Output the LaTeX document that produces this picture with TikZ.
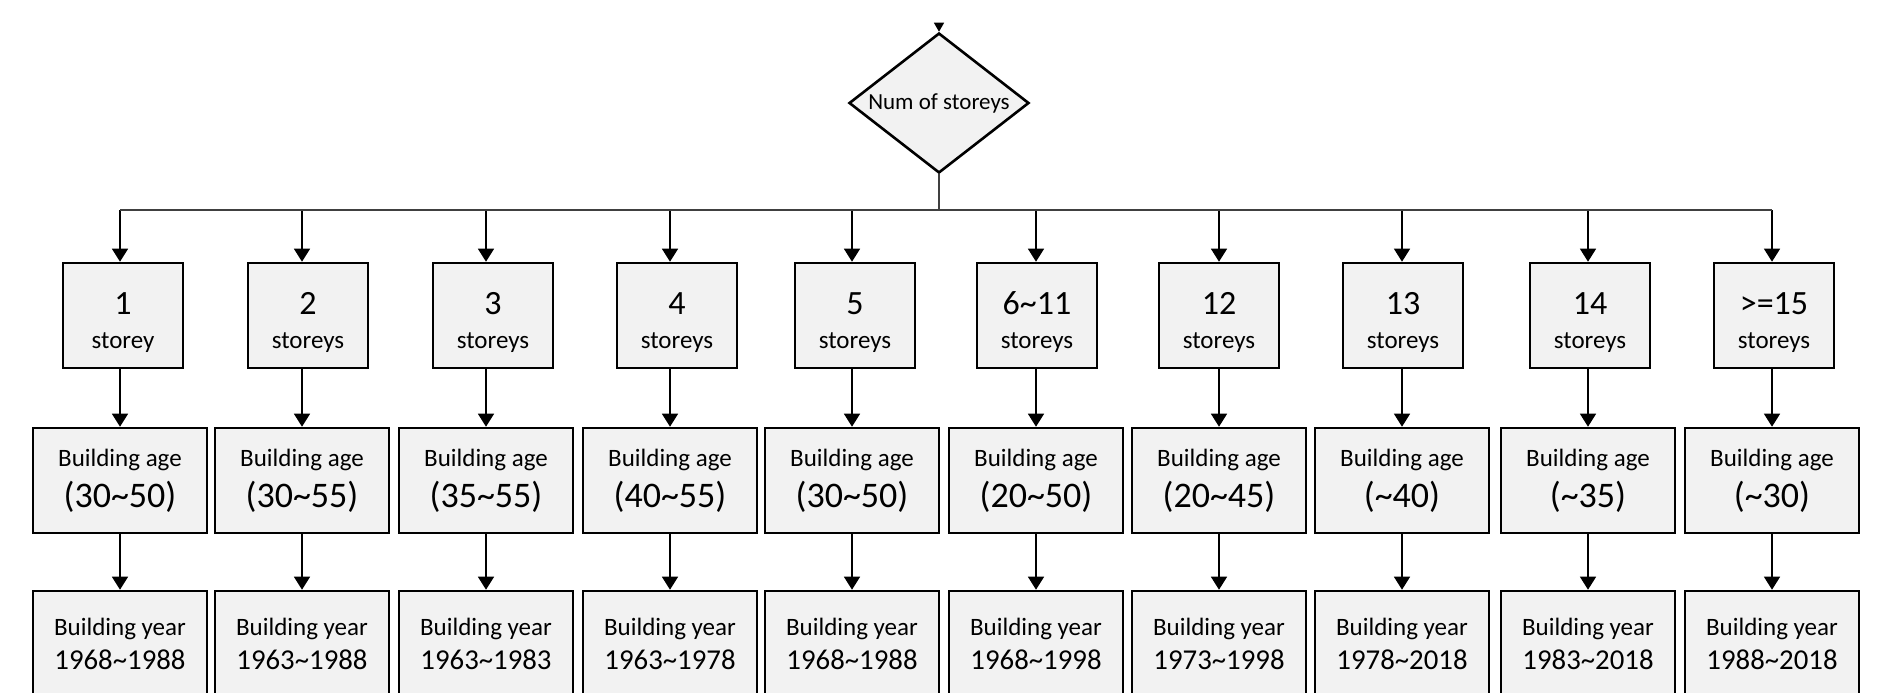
\documentclass[tikz,border=0pt]{standalone}
\usepackage{fontspec}
\setmainfont{Carlito}
\usetikzlibrary{shapes.geometric,arrows.meta}
\definecolor{boxfill}{HTML}{F2F2F2}
\newcommand\tl{\textasciitilde}
\begin{document}
\begin{tikzpicture}[x=0.5pt,y=-0.5pt,
  box/.style={draw=black, line width=1.3pt, fill=boxfill, inner sep=0pt, align=center, minimum height=52.5pt},
  sbox/.style={box, minimum width=60pt, font=\fontsize{12.5}{15}\selectfont},
  abox/.style={box, minimum width=87pt, font=\fontsize{12.5}{15}\selectfont},
  qbox/.style={diamond, draw=black, line width=1.3pt, fill=boxfill, minimum width=90pt, minimum height=70pt, inner sep=0pt, aspect=1.286, font=\fontsize{11.5}{13}\selectfont},
  arr/.style={line width=0.7pt, -{Triangle[width=8pt,length=6.5pt]}},
  smallarr/.style={line width=0.7pt, -{Triangle[width=5pt,length=4.5pt]}},
  busline/.style={line width=0.7pt, draw=black!75}
]
\clip (0,0) rectangle (1883,692);
\fill[white] (0,0) rectangle (1883,692);
\node[qbox] (q) at (939,103) {Num of storeys};
\coordinate (in) at (939,23);
\coordinate (bus) at (939,210);
\draw[smallarr] (in) -- (q.north);
\draw[busline] (q.south) -- (bus);
\foreach \i/\t/\x/\n/\u/\ag/\yr in {
 1/123/120/1/storey/{(30\tl50)}/{1968\tl1988},
 2/308/302/2/storeys/{(30\tl55)}/{1963\tl1988},
 3/493/486/3/storeys/{(35\tl55)}/{1963\tl1983},
 4/677/670/4/storeys/{(40\tl55)}/{1963\tl1978},
 5/855/852/5/storeys/{(30\tl50)}/{1968\tl1988},
 6/1037/1036/{6\tl11}/storeys/{(20\tl50)}/{1968\tl1998},
 7/1219/1219/12/storeys/{(20\tl45)}/{1973\tl1998},
 8/1403/1402/13/storeys/{(\tl40)}/{1978\tl2018},
 9/1590/1588/14/storeys/{(\tl35)}/{1983\tl2018},
 10/1774/1772/{>=15}/storeys/{(\tl30)}/{1988\tl2018}}
{
 \node[sbox] (s\i) at (\t,315.5) {\rule{0pt}{18.5pt}{\fontsize{17}{17}\selectfont \n}\\[2pt] \u};
 \node[abox] (a\i) at (\x,480.5) {Building age\\[4pt]{\fontsize{18}{18}\selectfont \ag}};
 \node[abox] (y\i) at (\x,643.5) {Building year\\[2pt]{\fontsize{14.4}{14.4}\selectfont \yr}};
 \draw[arr] (a\i.north |- bus) -- (a\i.north |- s\i.north);
 \draw[arr] (a\i.north |- s\i.south) -- (a\i.north);
 \draw[arr] (a\i.south) -- (y\i.north);
}
\draw[busline] (a1.north |- bus) -- (a10.north |- bus);
\end{tikzpicture}
\end{document}
